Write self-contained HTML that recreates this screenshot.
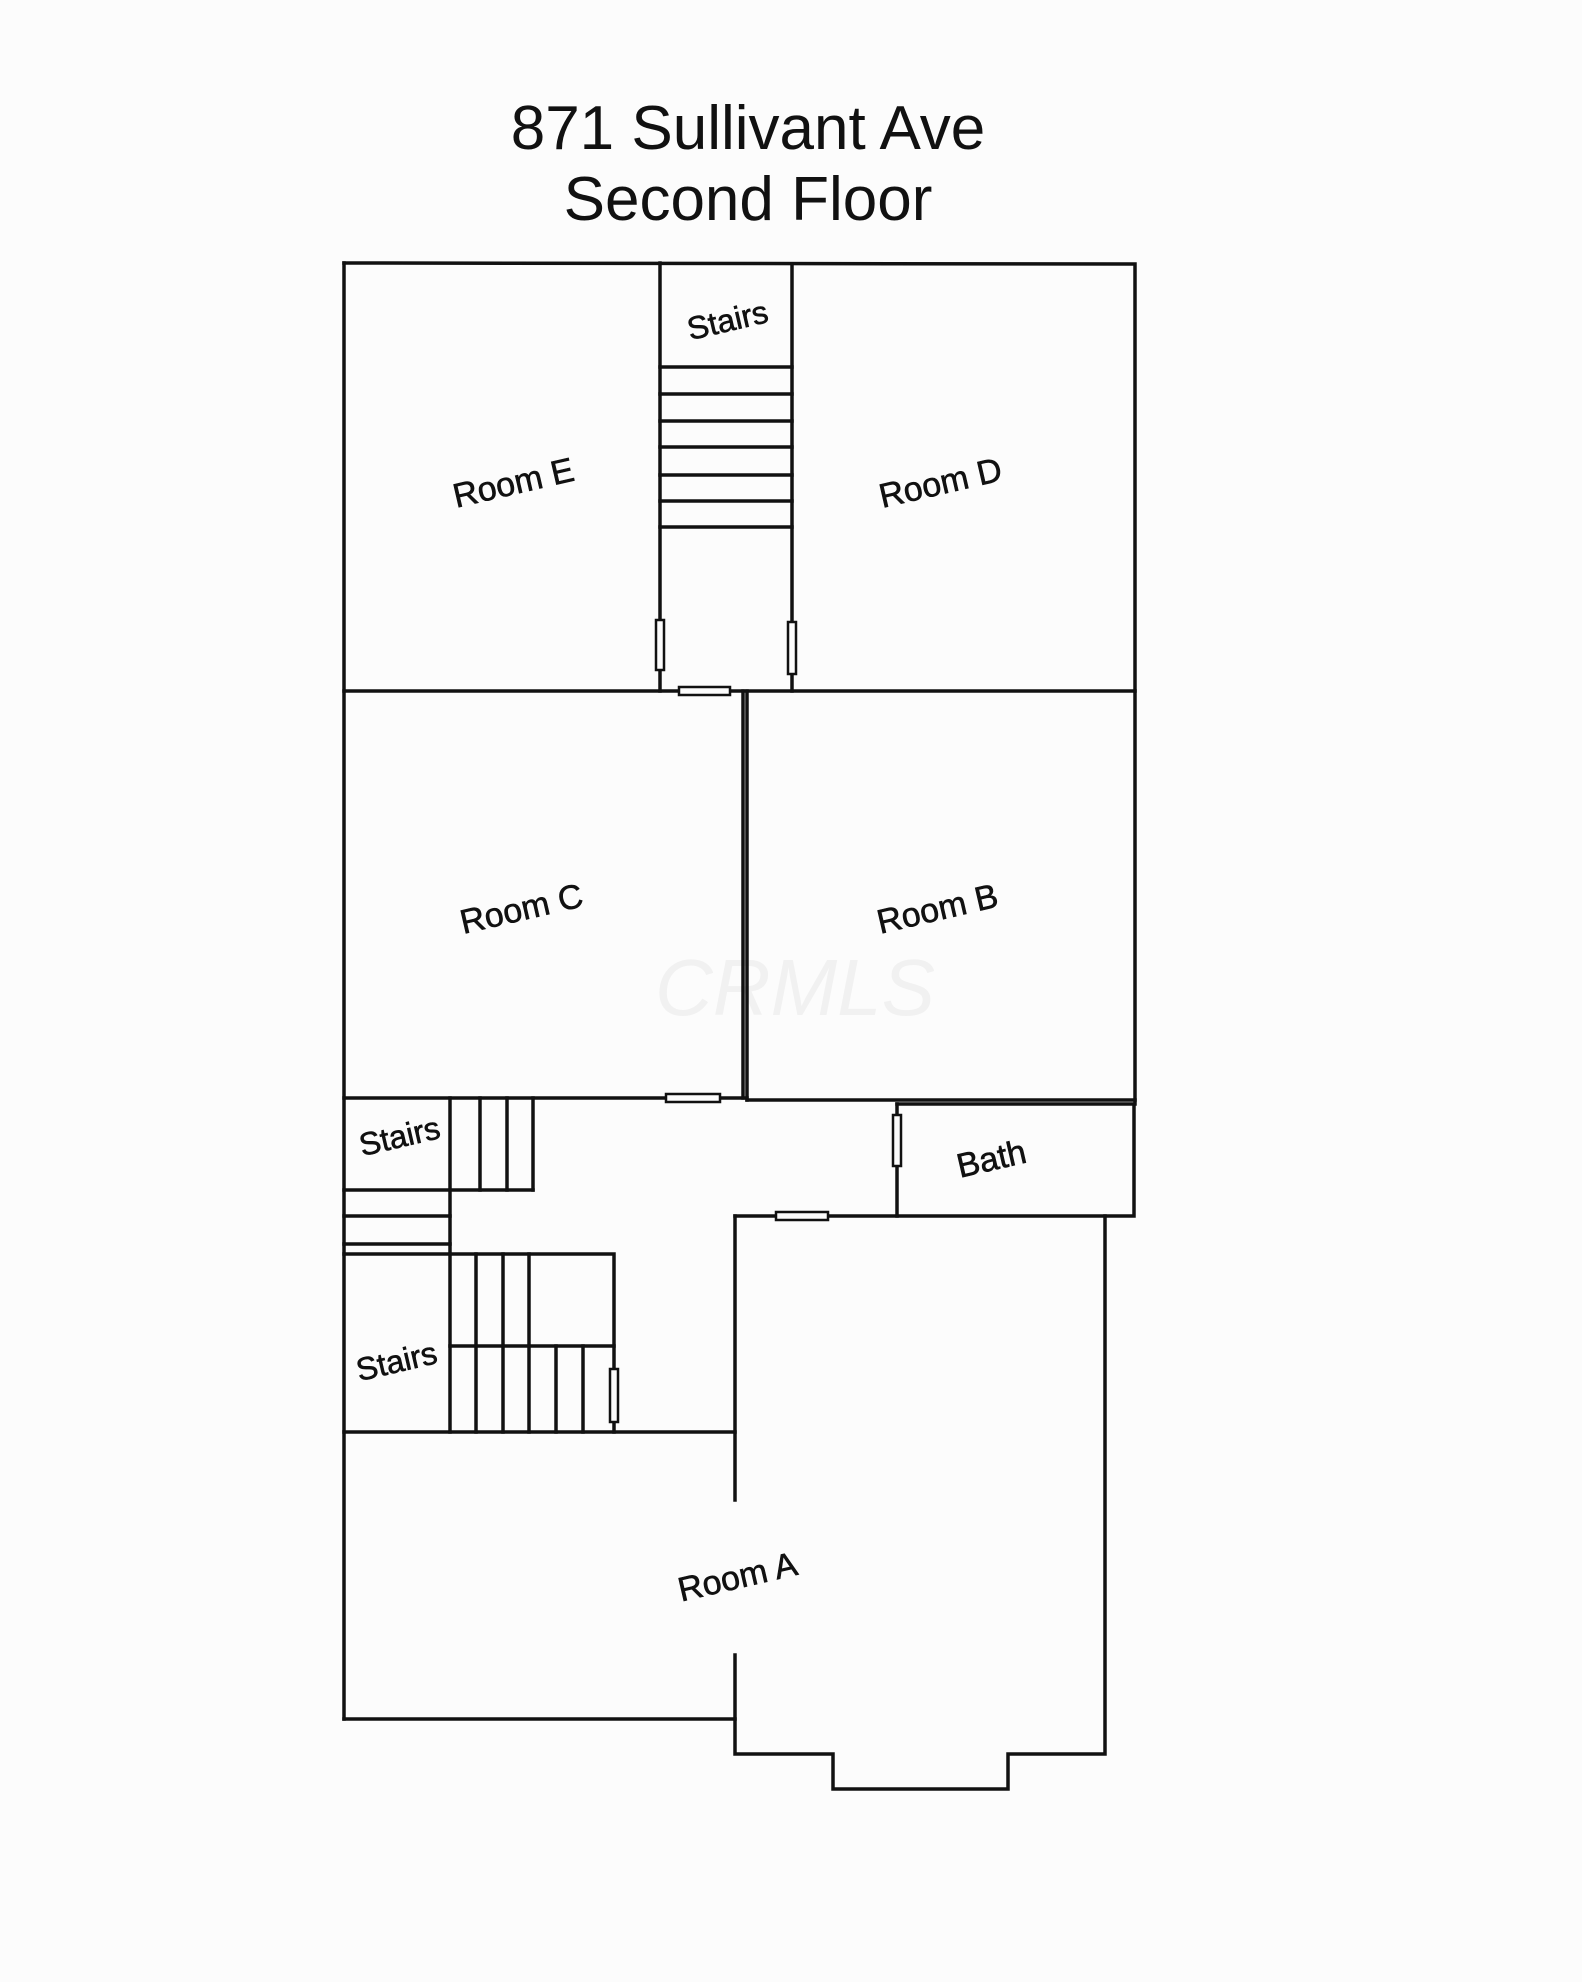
<!DOCTYPE html>
<html><head><meta charset="utf-8"><style>
html,body{margin:0;padding:0;background:#fcfcfc;}
svg{display:block}
</style></head><body>
<svg width="1582" height="1982" viewBox="0 0 1582 1982" xmlns="http://www.w3.org/2000/svg">
<rect width="1582" height="1982" fill="#fcfcfc"/>
<g font-family="Liberation Sans, sans-serif" fill="#111" text-anchor="middle">
<text x="748" y="149" font-size="62">871 Sullivant Ave</text>
<text x="748" y="220" font-size="62">Second Floor</text>
</g>
<text x="795" y="1015" font-family="Liberation Sans, sans-serif" font-size="80" font-style="italic" fill="#f1f1f1" text-anchor="middle">CRMLS</text>
<g stroke="#111" stroke-width="3.5" fill="none" stroke-linecap="square">
<polyline points="344,263 1135,264 1135,1104"/>
<line x1="344" y1="263" x2="344" y2="1719"/>
<line x1="660" y1="263" x2="660" y2="691"/>
<line x1="792" y1="264" x2="792" y2="691"/>
<line x1="660" y1="367" x2="792" y2="367"/>
<line x1="660" y1="394" x2="792" y2="394"/>
<line x1="660" y1="421" x2="792" y2="421"/>
<line x1="660" y1="447" x2="792" y2="447"/>
<line x1="660" y1="475" x2="792" y2="475"/>
<line x1="660" y1="501" x2="792" y2="501"/>
<line x1="660" y1="527" x2="792" y2="527"/>
<line x1="344" y1="691" x2="1135" y2="691"/>
<line x1="743" y1="691" x2="743" y2="1098"/>
<line x1="747" y1="691" x2="747" y2="1100"/>
<line x1="344" y1="1098" x2="747" y2="1098"/>
<line x1="747" y1="1100" x2="1135" y2="1100"/>
<polyline points="897,1104 1134,1104 1134,1216 735,1216"/>
<line x1="897" y1="1104" x2="897" y2="1216"/>
<polyline points="735,1216 735,1500"/>
<polyline points="735,1655 735,1754 833,1754 833,1789 1008,1789 1008,1754 1105,1754 1105,1216"/>
<line x1="344" y1="1719" x2="735" y2="1719"/>
<line x1="344" y1="1432" x2="735" y2="1432"/>
<line x1="450" y1="1098" x2="450" y2="1432"/>
<line x1="480" y1="1098" x2="480" y2="1190"/>
<line x1="507" y1="1098" x2="507" y2="1190"/>
<line x1="533" y1="1098" x2="533" y2="1190"/>
<line x1="344" y1="1190" x2="533" y2="1190"/>
<line x1="344" y1="1216" x2="450" y2="1216"/>
<line x1="344" y1="1244" x2="450" y2="1244"/>
<polyline points="344,1254 614,1254 614,1432"/>
<line x1="476" y1="1254" x2="476" y2="1432"/>
<line x1="503" y1="1254" x2="503" y2="1432"/>
<line x1="529" y1="1254" x2="529" y2="1432"/>
<line x1="450" y1="1346" x2="614" y2="1346"/>
<line x1="556" y1="1346" x2="556" y2="1432"/>
<line x1="583" y1="1346" x2="583" y2="1432"/>
</g>
<g stroke="#111" stroke-width="2.5" fill="#fcfcfc">
<rect x="656" y="620" width="8" height="50"/>
<rect x="788" y="622" width="8" height="52"/>
<rect x="679" y="687" width="51" height="8"/>
<rect x="666" y="1094" width="54" height="8"/>
<rect x="893" y="1115" width="8" height="51"/>
<rect x="776" y="1212" width="52" height="8"/>
<rect x="610" y="1369" width="8" height="53"/>
</g>
<g font-family="Liberation Sans, sans-serif" fill="#111" stroke="#111" stroke-width="0.6" text-anchor="middle" font-size="34">
<text transform="translate(516,494) rotate(-13)">Room E</text>
<text transform="translate(943,494) rotate(-13)">Room D</text>
<text transform="translate(524,920) rotate(-13)">Room C</text>
<text transform="translate(940,920) rotate(-13)">Room B</text>
<text transform="translate(740,1588) rotate(-13)">Room A</text>
<text transform="translate(994,1170) rotate(-13)">Bath</text>
<text transform="translate(730,331) rotate(-13)" font-size="32">Stairs</text>
<text transform="translate(402,1147) rotate(-13)" font-size="32">Stairs</text>
<text transform="translate(399,1372) rotate(-13)" font-size="32">Stairs</text>
</g>
</svg>
</body></html>
